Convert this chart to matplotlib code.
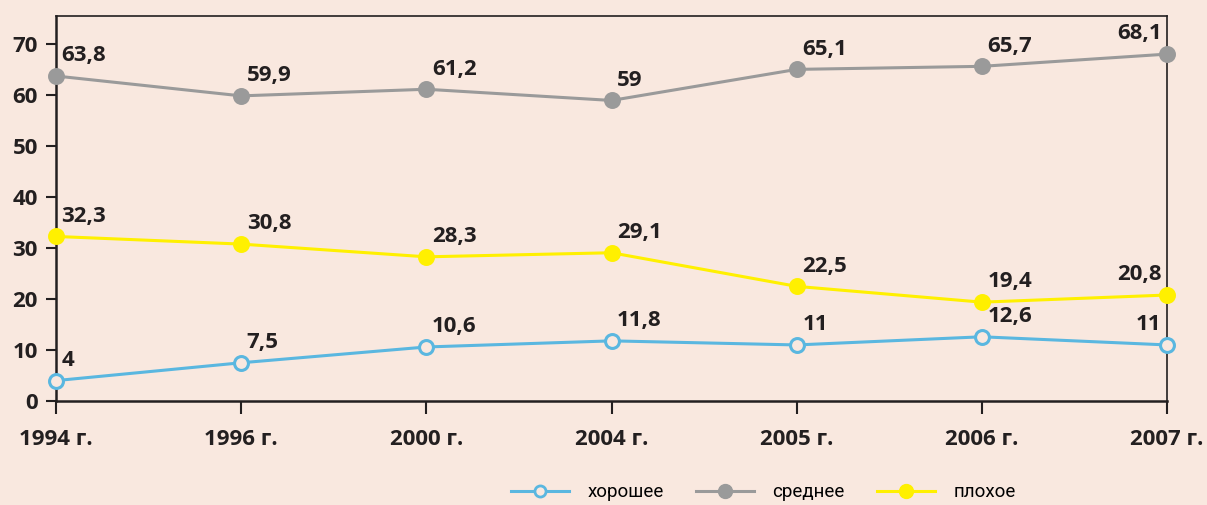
import matplotlib
matplotlib.use("Agg")
import matplotlib.pyplot as plt
from matplotlib.lines import Line2D

years = ["1994 г.", "1996 г.", "2000 г.", "2004 г.", "2005 г.", "2006 г.", "2007 г."]
good = [4, 7.5, 10.6, 11.8, 11, 12.6, 11]
average = [63.8, 59.9, 61.2, 59, 65.1, 65.7, 68.1]
bad = [32.3, 30.8, 28.3, 29.1, 22.5, 19.4, 20.8]
series_names = ["хорошее", "среднее", "плохое"]

BG = "#f9e8df"
INK = "#231f20"
BLUE = "#5ab7e0"
GREY = "#9a9a9a"
YELLOW = "#fff000"

plt.rcParams.update(
    {
        "font.family": ["Open Sans", "DejaVu Sans"],
        "font.weight": "bold",
        "font.size": 16,
    }
)

fig = plt.figure(figsize=(12.07, 5.05), dpi=100, facecolor=BG)
ax = fig.add_axes([0.0464, 0.206, 0.9205, 0.7625], facecolor=BG)

x = list(range(len(years)))

series = [
    (good, BLUE, BG),
    (average, GREY, GREY),
    (bad, YELLOW, YELLOW),
]
for vals, color, face in series:
    ax.plot(x, vals, color=color, lw=2.2, marker="o", markersize=10,
            markerfacecolor=face, markeredgecolor=color, markeredgewidth=2.2,
            clip_on=False, zorder=3)
    for i, v in enumerate(vals):
        label = f"{v:g}".replace(".", ",")
        last = i == len(vals) - 1
        ax.annotate(label, (x[i], v), xytext=(-4 if last else 4, 7),
                    textcoords="offset points", ha="right" if last else "left",
                    va="bottom", color=INK, fontsize=16, fontweight="bold")

ax.set_xlim(0, len(years) - 1)
ax.set_ylim(0, 75.6)
ax.set_yticks(range(0, 71, 10))
ax.set_xticks(x)
ax.set_xticklabels(years)

for side in ["left", "bottom", "top", "right"]:
    ax.spines[side].set_color(INK)
    ax.spines[side].set_linewidth(1.8)
ax.spines["top"].set_linewidth(1.2)
ax.spines["right"].set_linewidth(1.2)

ax.tick_params(axis="y", direction="out", length=7, width=1.5, colors=INK,
               pad=6, labelsize=16)
ax.tick_params(axis="x", direction="out", length=9, width=1.5, colors=INK,
               pad=11, labelsize=16)
for t in ax.get_xticklabels() + ax.get_yticklabels():
    t.set_fontweight("bold")

handles = [
    Line2D([], [], color=BLUE, lw=2.2, marker="o", markersize=8,
           markerfacecolor=BG, markeredgecolor=BLUE, markeredgewidth=2),
    Line2D([], [], color=GREY, lw=2.2, marker="o", markersize=10,
           markerfacecolor=GREY, markeredgecolor=GREY),
    Line2D([], [], color=YELLOW, lw=2.2, marker="o", markersize=10,
           markerfacecolor=YELLOW, markeredgecolor=YELLOW),
]
fig.legend(handles, series_names, loc="center left", bbox_to_anchor=(0.423, 0.025),
           ncol=3, frameon=False, handlelength=3.1, handletextpad=1.0,
           columnspacing=1.7, borderaxespad=0, borderpad=0,
           prop={"family": ["Roboto", "DejaVu Sans"],
                 "weight": "normal", "size": 13.5})

fig.savefig("out.png", dpi=100, facecolor=BG)
